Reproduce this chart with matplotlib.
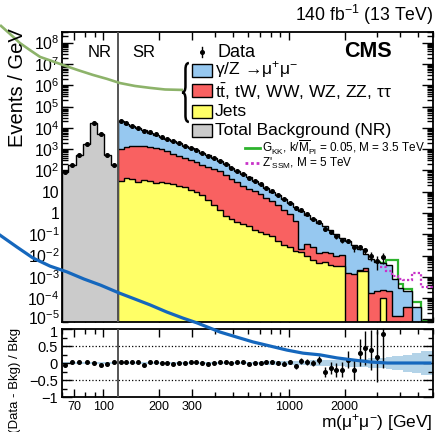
import numpy as np
import matplotlib
matplotlib.use("Agg")
import matplotlib.pyplot as plt
from matplotlib.path import Path
from matplotlib.patches import PathPatch, Rectangle
from matplotlib.transforms import ScaledTranslation
from matplotlib.ticker import FixedLocator, FuncFormatter, NullFormatter, LogLocator

plt.rcParams["font.family"] = ["Liberation Sans", "DejaVu Sans"]
plt.rcParams["mathtext.fontset"] = "custom"
plt.rcParams["mathtext.rm"] = "Liberation Sans"
plt.rcParams["mathtext.it"] = "Liberation Sans:italic"
plt.rcParams["mathtext.bf"] = "Liberation Sans:bold"
plt.rcParams["mathtext.default"] = "regular"

# ---- control region (NR) ----
nr_edges = [60, 65, 71, 78, 85, 93, 101, 110, 120]
nr_bkg = [84.5, 181, 541, 1730, 1.74e4, 5180, 541, 173]
nr_ratio = [-0.05, 0.03, 0.03, 0.03, 0.0, -0.06, -0.04, 0.03]
nr_ratio_err = [0.02, 0.015, 0.01, 0.01, 0.005, 0.01, 0.01, 0.015]
nr_band = [0.02, 0.02, 0.02, 0.02, 0.02, 0.02, 0.02, 0.02]

# ---- signal region (SR), events / GeV ----
sr_edges = [120, 129, 138, 149, 160, 172, 185, 199, 214, 230, 247, 265, 285, 307,
            330, 355, 381, 410, 441, 474, 509, 547, 588, 633, 680, 731, 786, 845,
            909, 977, 1050, 1129, 1214, 1305, 1403, 1508, 1621, 1743, 1874, 2014,
            2165, 2328, 2502, 2690, 2892, 3109, 3342, 3593, 3862, 4152, 4600, 5200, 6000]
# cumulative stack heights: DY + tt-like + jets
bkg_total = [2.0e4, 1.58e4, 1.25e4, 9.8e3, 7.7e3, 5.97e3, 4.8e3, 3.8e3, 2.99e3, 2.36e3,
             1.86e3, 1.47e3, 1.16e3, 890, 685, 504, 369, 271, 194, 136,
             95, 66.7, 46.7, 32.7, 22.9, 15.2, 10.2, 6.8, 4.5, 2.95,
             1.97, 1.29, 0.84, 0.55, 0.356, 0.238, 0.159, 0.103, 0.069, 0.046,
             0.030, 0.0195, 0.0121, 7.2e-3, 4.9e-3, 4.5e-3, 3.5e-3, 7.9e-4, 3.05e-4, 2.23e-4,
             4.0e-5, 3e-6]
bkg_ttbar_jets = [1050, 1240, 1400, 1470, 1400, 1300, 1160, 980, 810, 608,
                  480, 378, 298, 235, 185, 146, 115, 97.5, 63.5, 39.5,
                  27.6, 19.3, 13.5, 10.7, 7.5, 5.2, 3.66, 2.27, 1.41, 0.88,
                  0.43, 0.020, 0.035, 0.025, 0.0126, 0.014, 0.0126, 0.010, 0.0112, 1.6e-3,
                  1.4e-3, 2.1e-3, 2.5e-3, 1.68e-4, 2.1e-4, 2.4e-4, 2.1e-4, 1.4e-5, 1.4e-5, 4.0e-5,
                  0, 0]
bkg_jets = [33.4, 44.5, 41.4, 29.7, 35.1, 32.7, 26.4, 29.7, 24.5, 21.8,
            18.4, 16.0, 12.6, 9.5, 7.1, 4.1, 2.3, 1.35, 0.76, 0.5,
            0.38, 0.32, 0.24, 0.166, 0.126, 0.10, 0.079, 0.050, 0.032, 0.025,
            0.016, 0.014, 0.010, 6.3e-3, 4.5e-3, 5.0e-3, 3.5e-3, 3.2e-3, 3.2e-3, 0,
            0, 1.9e-3, 1.9e-3, 0, 0, 1.05e-4, 0, 0, 0, 0,
            0, 0]
sr_ratio = [0.03, 0.04, 0.02, 0.03, -0.05, 0.02, 0.03, 0.01, 0.0, -0.02,
            0.01, 0.0, 0.02, 0.03, 0.0, -0.03, 0.01, 0.02, 0.04, 0.0,
            0.02, 0.03, -0.02, 0.01, 0.0, 0.02, 0.04, 0.0, -0.02, 0.03,
            -0.1, 0.05, 0.03, 0.0, 0.09, -0.26, -0.15, -0.2, -0.2, 0.09,
            -0.2, 0.3, 0.44, 0.38, 0.18, 0.85, np.nan, np.nan, np.nan, np.nan,
            np.nan, np.nan]
sr_ratio_err = [0.01, 0.01, 0.01, 0.01, 0.012, 0.012, 0.012, 0.014, 0.014, 0.015,
                0.016, 0.017, 0.018, 0.02, 0.02, 0.022, 0.024, 0.026, 0.028, 0.03,
                0.032, 0.035, 0.038, 0.04, 0.045, 0.05, 0.055, 0.06, 0.065, 0.07,
                0.08, 0.085, 0.09, 0.1, 0.12, 0.15, 0.17, 0.2, 0.22, 0.25,
                0.3, 0.4, 0.5, 0.6, 0.75, 1.0, np.nan, np.nan, np.nan, np.nan,
                np.nan, np.nan]
sr_band = [0.02] * 16 + [0.025, 0.025, 0.03, 0.03, 0.03, 0.035, 0.035, 0.04, 0.04, 0.045,
                         0.05, 0.05, 0.055, 0.06, 0.06, 0.065, 0.07, 0.075, 0.08, 0.085,
                         0.09, 0.095, 0.1, 0.105, 0.11, 0.12, 0.13, 0.14, 0.15, 0.16,
                         0.18, 0.2, 0.22, 0.25, 0.29, 0.34]

# signal hypotheses stacked on background (high-mass bins)
sig_first_bin = 44
gkk_stack = [4.9e-3, 4.5e-3, 6.2e-3, 6.2e-3, 4.4e-4, 2.7e-4, 6.5e-5, 8.6e-6]
zssm_first_bin = 45
zssm_stack = [2.9e-3, 1.8e-3, 1.13e-3, 7.9e-4, 7.0e-4, 1.53e-3, 3.4e-4]

# overlay curves present in the picture
green_curve_mass = [27.8, 31.5, 35.6, 40.3, 45.7, 53.0, 60.7, 73.2, 88.2, 104.9,
                    123.3, 148.5, 178.9, 215.5, 269.5]
green_curve_val = [6.7e8, 2.53e8, 9.5e7, 4.46e7, 2.13e7, 1.36e7, 8.9e6, 5.1e6, 3.03e6, 1.98e6,
                   1.26e6, 9.2e5, 7.5e5, 6.3e5, 6.0e5]
blue_curve_mass = [27.8, 34.3, 41.8, 51.7, 63.8, 78.8, 96.9, 121.8, 148.5, 178.9,
                   220.2, 269.5, 320.6, 376, 427, 526.6, 642, 793, 979, 1195,
                   1475, 1822, 2223, 2745, 3394, 4238, 5106, 5780]
blue_curve_val = [3.76, 3.41, 3.09, 2.85, 2.68, 2.47, 2.29, 2.06, 1.88, 1.71,
                  1.5, 1.32, 1.18, 1.03, 0.91, 0.76, 0.62, 0.5, 0.38, 0.29,
                  0.24, 0.15, 0.09, 0.03, 0.0, 0.0, 0.0, 0.0]

C_DY = "#96c8f0"
C_TT = "#f96161"
C_JETS = "#ffff66"
C_NR = "#cbcbcb"
FLOOR = 1e-8

def floored(v):
    v = np.asarray(v, dtype=float)
    return np.where(v > 0, v, FLOOR)

def centers(edges):
    e = np.asarray(edges, dtype=float)
    return np.sqrt(e[:-1] * e[1:])

def nudge(label, dy_px):
    label.set_transform(label.get_transform()
                        + ScaledTranslation(0, dy_px / 100, fig.dpi_scale_trans))

fig = plt.figure(figsize=(4.38, 4.32), dpi=100)
ax = fig.add_axes([0.1416, 0.2546, 0.8470, 0.6713])
rax = fig.add_axes([0.1416, 0.0810, 0.8470, 0.1574], sharex=ax)

# ---- main panel ----
ax.set_xscale("log")
ax.set_yscale("log")
ax.set_xlim(60, 6000)
ax.set_ylim(7.6e-6, 3.15e8)

ax.stairs(floored(nr_bkg), nr_edges, baseline=FLOOR, fill=True,
          facecolor=C_NR, edgecolor="black", lw=1.0, zorder=2)

gk_edges = sr_edges[sig_first_bin:]
ax.stairs(gkk_stack, gk_edges, baseline=None, color="#2db32d", lw=1.6, zorder=1.5)

ax.stairs(floored(bkg_total), sr_edges, baseline=FLOOR, fill=True,
          facecolor=C_DY, edgecolor="black", lw=1.0, zorder=2)
ax.stairs(floored(bkg_ttbar_jets), sr_edges, baseline=FLOOR, fill=True,
          facecolor=C_TT, edgecolor="black", lw=1.0, zorder=2.1)
ax.stairs(floored(bkg_jets), sr_edges, baseline=FLOOR, fill=True,
          facecolor=C_JETS, edgecolor="black", lw=1.0, zorder=2.2)

zs_edges = sr_edges[zssm_first_bin:]
ax.stairs(zssm_stack, zs_edges, baseline=None, color="#c832c8", lw=1.6,
          ls=(0, (1, 1)), zorder=3)

# data points
all_centers = np.concatenate([centers(nr_edges), centers(sr_edges)])
all_bkg = np.concatenate([nr_bkg, bkg_total])
all_ratio = np.concatenate([nr_ratio, sr_ratio])
all_rerr = np.concatenate([nr_ratio_err, sr_ratio_err])
data = all_bkg * (1 + all_ratio)
data_err = all_bkg * all_rerr
lo_err = np.minimum(data_err, data * 0.999)
ok = np.isfinite(data)
ax.errorbar(all_centers[ok], data[ok], yerr=[lo_err[ok], data_err[ok]], fmt="o",
            ms=2.6, color="black", elinewidth=1.0, capsize=0, zorder=4)

ax.axvline(120, color="#555555", lw=1.4, zorder=3.5)

# overlay green curve
ax.plot(green_curve_mass, green_curve_val, color="#8db36a", lw=1.9,
        clip_on=False, zorder=20, solid_capstyle="butt")

# axes styling
ax.yaxis.set_major_locator(FixedLocator([10.0 ** k for k in range(-5, 9)]))
ax.yaxis.set_minor_locator(LogLocator(base=10, subs=np.arange(2, 10), numticks=100))
ax.yaxis.set_minor_formatter(NullFormatter())

def ylab(v, pos):
    k = int(round(np.log10(v)))
    if k == 0:
        return "1"
    if k == 1:
        return "10"
    return r"$10^{%d}$" % k

ax.yaxis.set_major_formatter(FuncFormatter(ylab))
ax.xaxis.set_major_locator(FixedLocator([70, 100, 200, 300, 1000, 2000]))
ax.xaxis.set_minor_locator(FixedLocator([60, 80, 90, 400, 500, 600, 700, 800, 900,
                                         3000, 4000, 5000, 6000]))
ax.tick_params(which="both", direction="in", top=True, right=True, labelbottom=False,
               width=1.0, labelsize=11.3, pad=2)
ax.tick_params(axis="y", which="major", length=8)
ax.tick_params(axis="y", which="minor", length=4)
ax.tick_params(axis="x", which="major", length=6)
ax.tick_params(axis="x", which="minor", length=3.5)
for s in ax.spines.values():
    s.set_linewidth(1.3)
nudge(ax.get_yticklabels()[0], 2.5)

# texts
ax.text(0.102, 0.931, "NR", transform=ax.transAxes, ha="center", va="center", fontsize=12)
ax.text(0.221, 0.931, "SR", transform=ax.transAxes, ha="center", va="center", fontsize=12)
ax.text(0.825, 0.934, "CMS", transform=ax.transAxes, ha="center", va="center",
        fontsize=15.5, fontweight="bold")
fig.text(0.9886, 0.965, r"140 fb$^{-1}$ (13 TeV)", ha="right", va="center", fontsize=12.7)

# legend (drawn by hand)
ax.plot([0.376, 0.376], [0.913, 0.949], color="black", lw=1.0, transform=ax.transAxes)
ax.plot([0.376], [0.931], "o", ms=2.6, color="black", transform=ax.transAxes)
ax.text(0.418, 0.931, "Data", transform=ax.transAxes, va="center", fontsize=13)

leg_rows = [
    (C_DY, "$\\gamma$/Z \u2192$\\mu^{+}\\mu^{-}$", 0.866, 0.870),
    (C_TT, r"t$\bar{\rm t}$, tW, WW, WZ, ZZ, $\tau\tau$", 0.798, 0.794),
    (C_JETS, "Jets", 0.726, 0.726),
    (C_NR, "Total Background (NR)", 0.660, 0.660),
]
for col, lab, yc, yt in leg_rows:
    ax.add_patch(Rectangle((0.350, yc - 0.022), 0.054, 0.044, transform=ax.transAxes,
                           facecolor=col, edgecolor="black", lw=1.0, zorder=5))
    ax.text(0.412, yt, lab, transform=ax.transAxes, va="center", fontsize=12.6)

# curly brace grouping the first three entries
x_tip, x_end, y_top, y_bot = 0.3235, 0.342, 0.893, 0.690
ym = 0.5 * (y_top + y_bot)
xm = 0.5 * (x_tip + x_end)
r = 0.022
verts = [(x_end, y_top), (xm, y_top), (xm, y_top - r), (xm, ym + r),
         (xm, ym), (x_tip, ym), (xm, ym), (xm, ym - r), (xm, y_bot + r),
         (xm, y_bot), (x_end, y_bot)]
codes = [Path.MOVETO, Path.CURVE3, Path.CURVE3, Path.LINETO, Path.CURVE3, Path.CURVE3,
         Path.CURVE3, Path.CURVE3, Path.LINETO, Path.CURVE3, Path.CURVE3]
ax.add_patch(PathPatch(Path(verts, codes), transform=ax.transAxes, fill=False,
                       lw=1.8, edgecolor="black", zorder=5))

ax.plot([0.493, 0.534], [0.600, 0.600], color="#2db32d", lw=2.0, transform=ax.transAxes)
ax.text(0.540, 0.600, r"G$_{\rm KK}$, k/$\overline{\rm M}_{\rm Pl}$ = 0.05, M = 3.5 TeV",
        transform=ax.transAxes, va="center", fontsize=8.5)
ax.plot([0.493, 0.534], [0.548, 0.548], color="#c832c8", lw=2.0, ls=(0, (1, 1)),
        transform=ax.transAxes)
ax.text(0.540, 0.548, r"Z'$_{\rm SSM}$, M = 5 TeV", transform=ax.transAxes,
        va="center", fontsize=8.5)

fig.text(18 / 438, 1 - 88 / 432, "Events / GeV", rotation=90, ha="center", va="center",
         fontsize=14.5)

# ---- ratio panel ----
all_edges = nr_edges + sr_edges[1:]
band = np.concatenate([nr_band, sr_band])
rax.stairs(band, all_edges, baseline=-band, fill=True, color="#b3d3e8", lw=0, zorder=1)
rax.axhline(0.5, color="black", ls=":", lw=0.9, zorder=1.5)
rax.axhline(-0.5, color="black", ls=":", lw=0.9, zorder=1.5)
rok = np.isfinite(all_ratio)
rax.errorbar(all_centers[rok], all_ratio[rok], yerr=all_rerr[rok], fmt="o", ms=2.6,
             color="black", elinewidth=1.0, capsize=0, zorder=4)
rax.axvline(120, color="#555555", lw=1.4, zorder=3.5)
rax.set_ylim(-1, 1)
rax.set_xlim(60, 6000)

rax.plot(blue_curve_mass, blue_curve_val, color="#1567bd", lw=2.3, clip_on=False, zorder=20)

rax.set_yticks([-1, -0.5, 0, 0.5, 1])
rax.yaxis.set_major_formatter(FuncFormatter(lambda v, p: f"{v:g}".replace("-", "\u2212")))
rax.yaxis.set_minor_locator(FixedLocator([-0.75, -0.25, 0.25, 0.75]))
rax.xaxis.set_major_formatter(FuncFormatter(lambda v, p: f"{v:g}"))
rax.xaxis.set_minor_formatter(NullFormatter())
rax.tick_params(which="both", direction="in", top=True, right=True, width=1.0)
rax.tick_params(axis="y", which="major", length=7, labelsize=10.5, pad=3)
rax.tick_params(axis="y", which="minor", length=3.5)
rax.tick_params(axis="x", which="major", length=6, labelsize=9, pad=3)
rax.tick_params(axis="x", which="minor", length=3.5)
for s in rax.spines.values():
    s.set_linewidth(1.3)
nudge(rax.get_yticklabels()[-1], -2.5)

fig.text(15 / 438, 1 - 380 / 432, "(Data - Bkg) / Bkg", rotation=90, ha="center",
         va="center", fontsize=9.5)
fig.text(433 / 438, 1 - 423 / 432, r"m($\mu^{+}\mu^{-}$) [GeV]", ha="right", va="center",
         fontsize=12.5)

fig.savefig("out.png", dpi=100)
